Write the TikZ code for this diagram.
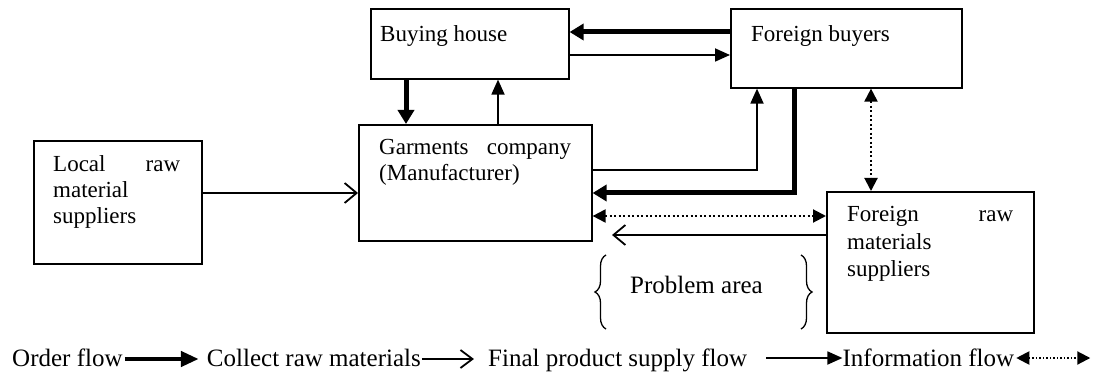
\documentclass[tikz,border=0pt]{standalone}
\usepackage{fontspec}
\setmainfont{Liberation Serif}
\usetikzlibrary{arrows.meta,decorations.pathreplacing,calc}
\begin{document}
\begin{tikzpicture}[x=1pt,y=-1pt,
  box/.style={draw, line width=1.6pt, inner sep=0pt, anchor=north west},
  txt/.style={inner sep=0pt, anchor=base west, font=\fontsize{23}{26}\selectfont},
  lg/.style={inner sep=0pt, anchor=base west, font=\fontsize{25}{28}\selectfont},
  ordr/.style={line width=5pt, -{Triangle[length=14pt,width=16pt]}},
  supply/.style={line width=1.8pt, -{Triangle[length=15pt,width=13pt]}},
  collect/.style={line width=1.8pt, -{Straight Barb[length=12pt,width=20pt]}},
  info/.style={line width=2pt, dash pattern=on 2pt off 2.5pt, {Triangle[length=13pt,width=13pt]}-{Triangle[length=13pt,width=13pt]}},
  bracestyle/.style={line width=1.3pt, decorate, decoration={brace, amplitude=11pt}}
]
\useasboundingbox (0,0) rectangle (1108,374);

% boxes
\node[box, minimum width=198pt, minimum height=70pt] (bh) at (370,8) {};
\node[box, minimum width=231pt, minimum height=79pt] (fb) at (730,8) {};
\node[box, minimum width=233pt, minimum height=116pt] (gc) at (358,124) {};
\node[box, minimum width=168pt, minimum height=123pt] (lr) at (33,140) {};
\node[box, minimum width=207pt, minimum height=141pt] (fr) at (826,191) {};

% box texts
\node[txt] (bht) at (380,42) {Buying house};
\node[txt] (fbt) at (751,42) {Foreign buyers};
\node[txt] (gct1) at (379,155) {\makebox[192pt][l]{Garments\hfill company}};
\node[txt] (gct2) at (379,181) {(Manufacturer)};
\node[txt] (lrt1) at (53,172) {\makebox[127pt][l]{Local\hfill raw}};
\node[txt] (lrt2) at (53,198) {material};
\node[txt] (lrt3) at (53,224) {suppliers};
\node[txt] (frt1) at (847,222) {\makebox[166pt][l]{Foreign\hfill raw}};
\node[txt] (frt2) at (847,249) {materials};
\node[txt] (frt3) at (847,276) {suppliers};

% connectors
\draw[ordr] (fb.west |- 0,32) -- (bh.east |- 0,32);
\draw[supply] (bh.east |- 0,55) -- (fb.west |- 0,55);
\draw[ordr] (406,0 |- bh.south) -- (406,0 |- gc.north);
\draw[supply] (498,0 |- gc.north) -- (498,0 |- bh.south);
\draw[supply] (gc.east |- 0,170) -| (757,0 |- fb.south);
\draw[ordr] (794,0 |- fb.south) |- (gc.east |- 0,193);
\draw[info] (gc.east |- 0,216) -- (fr.west |- 0,216);
\coordinate (pe) at (612,235);
\draw[collect] (fr.west |- pe) -- (pe);
\draw[info] (871,0 |- fb.south) -- (871,0 |- fr.north);
\draw[collect] (lr.east |- 0,193) -- (gc.west |- 0,193);

% problem area
\draw[bracestyle] (606,329) -- (606,255);
\draw[bracestyle] (801,255) -- (801,329);
\node[lg] (pa) at (630,293) {Problem area};

% legend
\node[lg] (l1) at (12,366) {Order flow};
\draw[line width=4.5pt, -{Triangle[length=18pt,width=15pt]}] ($(l1.base east)+(2,-7)$) -- ++(74,0) coordinate (a1);
\node[lg] (l2) at ($(a1)+(8,7)$) {Collect raw materials};
\draw[line width=1.8pt, -{Straight Barb[length=12pt,width=18pt]}] ($(l2.base east)+(1,-7)$) -- ++(52,0) coordinate (a2);
\node[lg] (l3) at ($(a2)+(14,7)$) {Final product supply flow};
\draw[supply] ($(l3.base east)+(19,-8)$) -- ++(76,0) coordinate (a3);
\node[lg] (l4) at ($(a3)+(0,8)$) {Information flow};
\draw[info, dash pattern=on 1.5pt off 2pt] ($(l4.base east)+(2,-8)$) -- ++(74,0);
\end{tikzpicture}
\end{document}
